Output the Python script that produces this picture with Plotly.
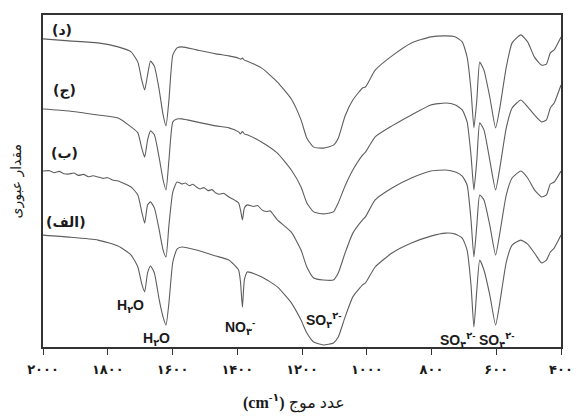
import plotly.graph_objects as go

# Wavenumber grid (cm^-1) shared by spectra (د), (ج) and (الف)
wavenumber = [2000, 1920, 1830, 1768, 1728, 1707, 1695, 1686, 1677, 1668, 1656, 1641,
              1629, 1620, 1611, 1599, 1586, 1571, 1526, 1466, 1426, 1396, 1390, 1384,
              1378, 1369, 1324, 1276, 1233, 1203, 1185, 1164, 1134, 1103, 1088, 1067,
              1043, 1013, 1004, 974, 922, 862, 802, 756, 726, 705, 690, 678, 669, 660,
              651, 638, 620, 602, 590, 569, 551, 524, 503, 482, 460, 445, 433, 421, 400]

# Offset transmittance (arbitrary units)
trans_d = [92.8, 92.2, 91.6, 90.4, 88.9, 85.8, 80.4, 77.4, 81.9, 86.1, 84.6, 77.4,
           69.9, 66.6, 74.4, 88.0, 90.1, 90.4, 89.5, 88.3, 87.7, 87.0, 86.7, 87.0,
           86.4, 86.1, 84.0, 79.8, 74.7, 68.4, 62.9, 60.2, 59.9, 60.8, 62.9, 69.6,
           74.4, 78.0, 78.3, 83.4, 87.7, 91.6, 93.4, 93.7, 93.4, 91.9, 87.3, 77.4,
           66.0, 74.4, 85.8, 83.4, 75.3, 66.0, 71.4, 84.3, 91.6, 94.0, 91.9, 87.3,
           84.9, 85.2, 88.6, 89.5, 93.4]

trans_j = [71.7, 71.1, 69.9, 69.0, 66.3, 64.5, 59.9, 57.2, 62.3, 65.1, 63.9, 56.9,
           50.3, 47.3, 56.3, 67.8, 68.7, 68.7, 67.8, 66.6, 66.0, 64.8, 64.2, 64.9,
           64.2, 63.9, 61.7, 58.4, 53.3, 48.2, 43.4, 40.7, 40.1, 40.7, 43.4, 48.5,
           53.3, 57.8, 58.7, 63.3, 66.6, 69.9, 72.9, 73.5, 72.9, 71.4, 67.8, 57.8,
           47.3, 56.3, 67.5, 65.4, 56.3, 47.3, 53.3, 66.0, 72.0, 74.4, 72.3, 69.9,
           67.8, 68.4, 72.0, 73.5, 78.9]

trans_alef = [33.7, 33.1, 32.2, 30.4, 27.7, 24.1, 19.0, 16.6, 22.3, 24.4, 22.3, 14.2,
              9.0, 6.6, 13.3, 25.6, 29.5, 30.1, 29.2, 27.4, 26.2, 23.2, 19.6, 12.0,
              20.2, 22.6, 21.1, 18.1, 13.3, 8.1, 4.2, 1.5, 0.6, 1.2, 3.0, 9.0,
              15.1, 18.7, 19.3, 24.1, 28.3, 31.3, 33.4, 34.3, 34.0, 32.8, 29.2, 18.7,
              6.0, 17.2, 26.2, 23.2, 15.7, 6.6, 12.7, 25.6, 30.7, 32.2, 31.0, 28.3,
              25.3, 26.2, 28.6, 29.8, 33.7]

# Spectrum (ب) is noisier, so it is sampled on its own, denser grid
wavenumber_b = [2000, 1980, 1965, 1950, 1935, 1920, 1905, 1890, 1875, 1860, 1845, 1830,
                1815, 1800, 1785, 1768, 1728, 1707, 1695, 1686, 1677, 1668, 1656, 1641,
                1629, 1620, 1611, 1599, 1586, 1571, 1560, 1548, 1537, 1526, 1515, 1503,
                1490, 1478, 1466, 1454, 1442, 1426, 1414, 1396, 1390, 1384, 1378, 1369,
                1350, 1337, 1324, 1310, 1298, 1288, 1276, 1233, 1203, 1185, 1164, 1134,
                1103, 1088, 1067, 1043, 1013, 1004, 974, 922, 862, 802, 756, 726, 705,
                690, 678, 669, 660, 651, 638, 620, 602, 590, 569, 551, 524, 503, 482,
                460, 445, 433, 421, 400]

trans_b = [53.0, 53.1, 52.5, 52.9, 52.2, 52.1, 52.4, 51.7, 52.0, 51.3, 51.6, 51.2,
           50.8, 51.0, 50.3, 50.0, 48.2, 45.8, 40.7, 37.3, 42.8, 43.7, 41.9, 35.2,
           29.2, 27.1, 36.7, 46.7, 49.7, 49.1, 49.4, 48.6, 49.0, 48.2, 47.6, 48.0,
           47.1, 47.4, 46.4, 46.0, 46.3, 45.2, 44.6, 43.4, 41.3, 38.3, 41.9, 42.8,
           42.3, 42.6, 41.3, 40.8, 41.0, 39.8, 38.3, 34.6, 29.2, 24.1, 20.8, 20.2,
           20.2, 22.3, 28.3, 34.3, 38.3, 39.2, 44.3, 47.9, 50.9, 53.0, 53.3, 52.7,
           51.5, 48.8, 38.3, 27.1, 36.7, 45.8, 44.3, 36.7, 27.7, 33.7, 45.8, 50.9,
           53.0, 50.9, 47.3, 45.2, 45.8, 49.1, 49.7, 53.0]

series = [(wavenumber, trans_d), (wavenumber, trans_j),
          (wavenumber_b, trans_b), (wavenumber, trans_alef)]

# Sample labels at the left of each trace: (text, wavenumber, transmittance)
sample_labels = [("(د)", 1941, 95.5), ("(ج)", 1935, 77.4),
                 ("(ب)", 1935, 58.4), ("(الف)", 1929, 37.7)]

# Band assignments: (text, wavenumber, transmittance)
band_labels = [("H<sub>۲</sub>O", 1731, 12.3),
               ("H<sub>۲</sub>O", 1650, 2.4),
               ("NO<sub>۳</sub><sup>-</sup>", 1390, 6.0),
               ("SO<sub>۴</sub><sup>۲-</sup>", 1134, 8.1),
               ("SO<sub>۴</sub><sup>۲-</sup>", 721, 2.1),
               ("SO<sub>۴</sub><sup>۲-</sup>", 600, 2.1)]

tick_vals = [2000, 1800, 1600, 1400, 1200, 1000, 800, 600, 400]
tick_text = ["۲۰۰۰", "۱۸۰۰", "۱۶۰۰", "۱۴۰۰", "۱۲۰۰", "۱۰۰۰", "۸۰۰", "۶۰۰", "۴۰۰"]

fig = go.Figure()
for xs, ys in series:
    fig.add_trace(go.Scatter(x=xs, y=ys, mode="lines",
                             line=dict(color="#5e5e5e", width=1.1, shape="spline",
                                       smoothing=0.5),
                             showlegend=False, hoverinfo="skip"))

annotations = []
for text, xv, yv in sample_labels:
    annotations.append(dict(x=xv, y=yv, text="<b>" + text + "</b>", showarrow=False,
                            font=dict(family="DejaVu Sans", size=14, color="#1a1a1a")))
for text, xv, yv in band_labels:
    annotations.append(dict(x=xv, y=yv, text="<b>" + text + "</b>", showarrow=False,
                            font=dict(family="Liberation Sans, DejaVu Sans", size=14,
                                      color="#1a1a1a")))

annotations.append(dict(xref="paper", yref="paper", x=0.485, y=-0.165,
                        xanchor="center", yanchor="middle",
                        text="<b>(cm<sup>-۱</sup>)</b> عدد موج", showarrow=False,
                        font=dict(family="Liberation Serif, DejaVu Sans", size=16,
                                  color="#1a1a1a")))
annotations.append(dict(xref="paper", yref="paper", x=-0.053, y=0.5,
                        xanchor="center", yanchor="middle",
                        text="مقدار عبوری", textangle=-90, showarrow=False,
                        font=dict(family="DejaVu Sans", size=14, color="#1a1a1a")))

fig.update_layout(
    width=585, height=420,
    margin=dict(l=43, r=12, t=15, b=73),
    paper_bgcolor="white", plot_bgcolor="white",
    annotations=annotations,
    xaxis=dict(range=[2000, 400], tickvals=tick_vals, ticktext=tick_text,
               ticks="outside", ticklen=6, tickwidth=1.3, tickcolor="#333",
               showline=True, linecolor="#333", linewidth=1.5, mirror=True,
               showgrid=False, zeroline=False,
               tickfont=dict(family="DejaVu Sans", size=13, color="#1a1a1a",
                             weight="bold"),
               ticklabelstandoff=4),
    yaxis=dict(range=[0, 100], showticklabels=False, ticks="",
               showline=True, linecolor="#333", linewidth=1.5, mirror=True,
               showgrid=False, zeroline=False),
)

fig.write_html("out.html")
